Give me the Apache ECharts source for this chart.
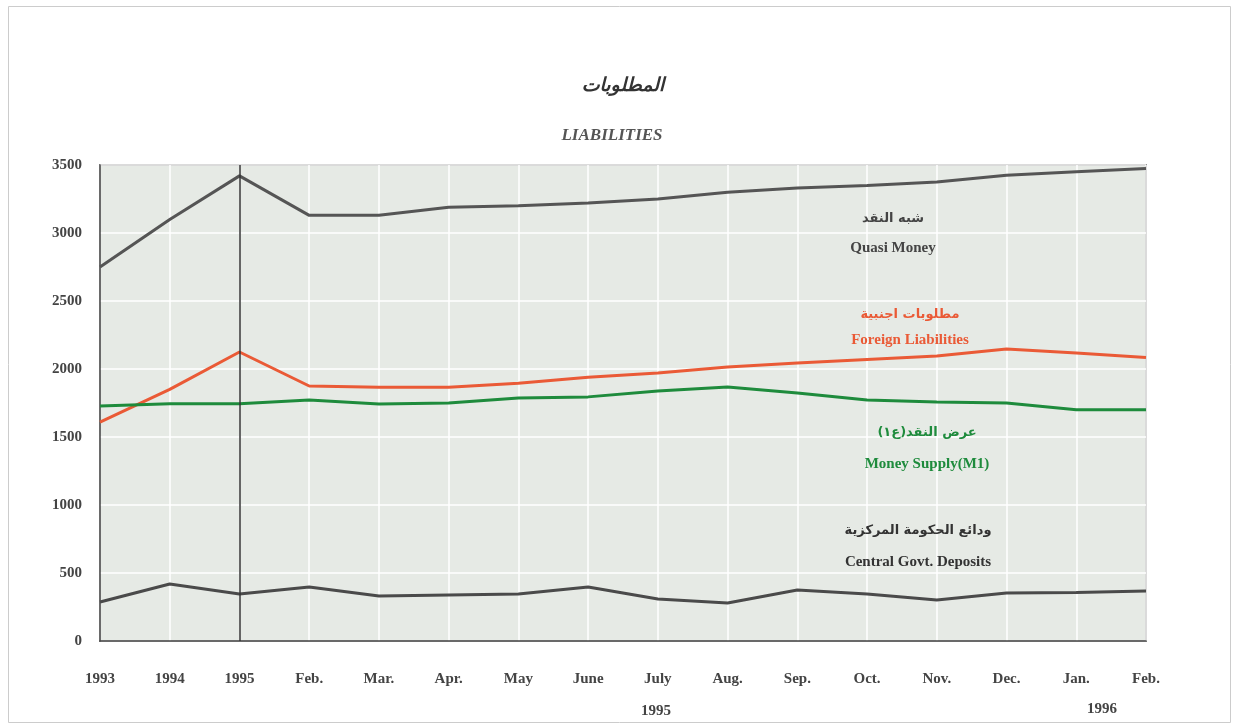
<!DOCTYPE html>
<html><head><meta charset="utf-8">
<script src="https://cdn.jsdelivr.net/npm/echarts@6/dist/echarts.min.js"></script>
<style>html,body{margin:0;padding:0;background:#fff}#c{width:1234px;height:726px}</style>
</head><body><div id="c"></div>
<script>
const categories = ['1993','1994','1995','Feb.','Mar.','Apr.','May','June','July','Aug.','Sep.','Oct.','Nov.','Dec.','Jan.','Feb.'];
const yTicks = [0,500,1000,1500,2000,2500,3000,3500];
const quasiMoney = [2750,3100,3420,3130,3130,3190,3200,3220,3250,3300,3330,3350,3375,3425,3450,3475];
const foreignLiab = [1610,1850,2125,1875,1865,1865,1895,1940,1970,2015,2045,2070,2095,2147,2118,2085];
const moneySupply = [1728,1745,1745,1772,1743,1750,1787,1795,1838,1868,1823,1772,1757,1750,1700,1700];
const govDeposits = [287,419,345,397,331,338,345,397,309,280,375,345,301,353,357,368];
const seriesNames = ['Quasi Money','Foreign Liabilities','Money Supply(M1)','Central Govt. Deposits'];
const arabicNames = ['شبه النقد','مطلوبات اجنبية','عرض النقد(ع١)','ودائع الحكومة المركزية'];
const titleAr = 'المطلوبات';
const titleEn = 'LIABILITIES';
const yearNotes = ['1995','1996'];

const serif = '"Liberation Serif","DejaVu Serif",serif';
const chart = echarts.init(document.getElementById('c'), null, {renderer:'canvas'});
function line(name, data, color, extra){
  return Object.assign({type:'line', name, data, symbol:'none', smooth:false,
    lineStyle:{color, width:3}, itemStyle:{color}, z:3}, extra||{});
}
chart.setOption({
  backgroundColor:'#ffffff',
  animation:false,
  grid:{left:100, right:88, top:165, bottom:85, show:true, backgroundColor:'#e6eae5', borderColor:'#444', borderWidth:1.5},
  xAxis:{type:'category', data:categories, boundaryGap:false,
    axisLine:{show:true, lineStyle:{color:'#444', width:1.5}}, axisTick:{show:false},
    axisLabel:{color:'#444', fontFamily:serif, fontWeight:'bold', fontSize:15, margin:31},
    splitLine:{show:true, lineStyle:{color:'#ffffff', width:1.5}}},
  yAxis:{type:'value', min:0, max:3500, interval:500,
    axisLine:{show:true, lineStyle:{color:'#444', width:1.5}}, axisTick:{show:false},
    axisLabel:{color:'#444', fontFamily:serif, fontWeight:'bold', fontSize:15, margin:18,
      formatter:v=>yTicks.includes(v)?String(v):''},
    splitLine:{show:true, lineStyle:{color:'#ffffff', width:1.5}}},
  series:[
    line(seriesNames[0], quasiMoney, '#555555', {markLine:{silent:true, symbol:'none', label:{show:false},
      lineStyle:{color:'#333', width:1.5, type:'solid'}, data:[{xAxis:2}]}}),
    line(seriesNames[1], foreignLiab, '#ea5a36'),
    line(seriesNames[2], moneySupply, '#1e8b3c'),
    line(seriesNames[3], govDeposits, '#4a4a4a')
  ],
  graphic:[
    {type:'rect', left:6, top:4, shape:{width:1222, height:716}, style:{fill:'none', stroke:'#ccc', lineWidth:1}, z:-1},
    {type:'text', x:623, y:86, style:{text:titleAr, fill:'#333', font:'italic bold 19px "DejaVu Sans",serif', align:'center', verticalAlign:'middle'}},
    {type:'text', x:612, y:136, style:{text:titleEn, fill:'#555', font:'italic bold 17px '+serif, align:'center', verticalAlign:'middle'}},
    {type:'text', x:893, y:219, style:{text:arabicNames[0], fill:'#444', font:'bold 13px "DejaVu Sans",serif', align:'center', verticalAlign:'middle'}, z:10},
    {type:'text', x:893, y:248, style:{text:seriesNames[0], fill:'#444', font:'bold 15px '+serif, align:'center', verticalAlign:'middle'}, z:10},
    {type:'text', x:910, y:315, style:{text:arabicNames[1], fill:'#ea5a36', font:'bold 13px "DejaVu Sans",serif', align:'center', verticalAlign:'middle'}, z:10},
    {type:'text', x:910, y:340, style:{text:seriesNames[1], fill:'#ea5a36', font:'bold 15px '+serif, align:'center', verticalAlign:'middle'}, z:10},
    {type:'text', x:927, y:433, style:{text:arabicNames[2], fill:'#1e8b3c', font:'bold 13px "DejaVu Sans",serif', align:'center', verticalAlign:'middle'}, z:10},
    {type:'text', x:927, y:464, style:{text:seriesNames[2], fill:'#1e8b3c', font:'bold 15px '+serif, align:'center', verticalAlign:'middle'}, z:10},
    {type:'text', x:918, y:531, style:{text:arabicNames[3], fill:'#333', font:'bold 13px "DejaVu Sans",serif', align:'center', verticalAlign:'middle'}, z:10},
    {type:'text', x:918, y:562, style:{text:seriesNames[3], fill:'#333', font:'bold 15px '+serif, align:'center', verticalAlign:'middle'}, z:10},
    {type:'text', x:656, y:711, style:{text:yearNotes[0], fill:'#444', font:'bold 15px '+serif, align:'center', verticalAlign:'middle'}},
    {type:'text', x:1102, y:709, style:{text:yearNotes[1], fill:'#444', font:'bold 15px '+serif, align:'center', verticalAlign:'middle'}}
  ]
});
</script></body></html>
